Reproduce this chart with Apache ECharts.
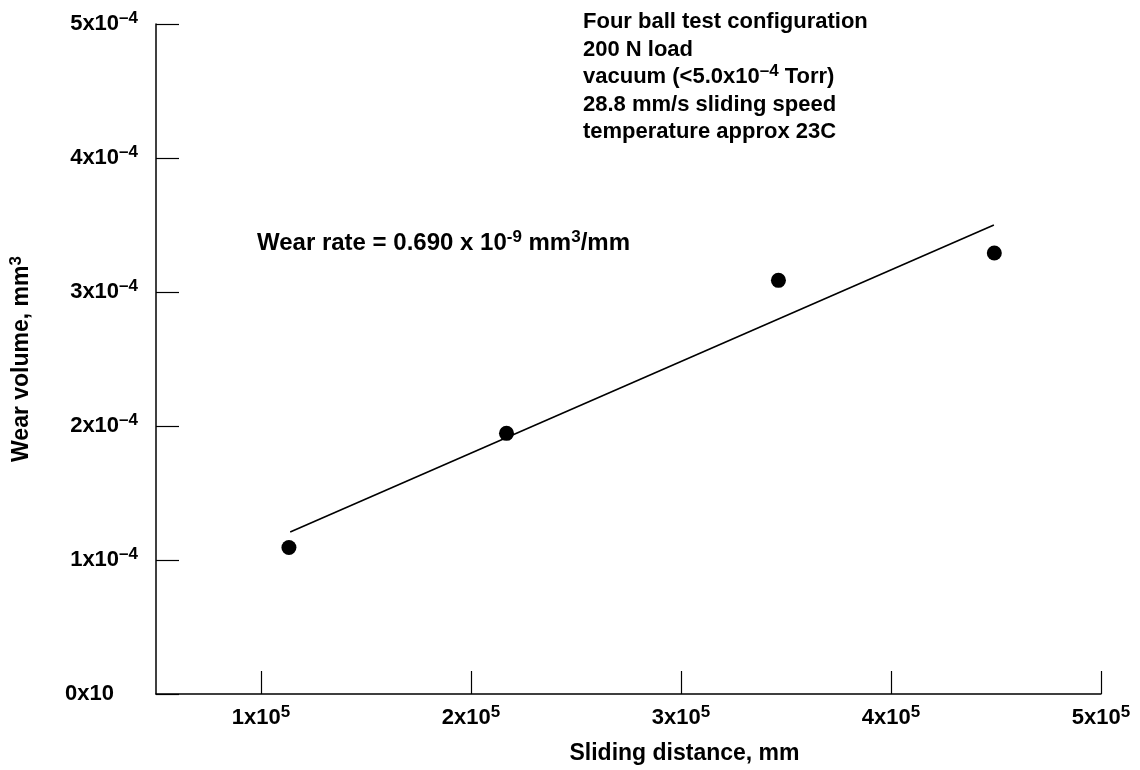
<!DOCTYPE html>
<html><head><meta charset="utf-8">
<script src="https://cdn.jsdelivr.net/npm/echarts@6/dist/echarts.min.js"></script>
<style>html,body{margin:0;padding:0;background:#fff}#c{width:1140px;height:770px}</style>
</head><body><div id="c"></div>
<script>
// Data
const slidingDistance = [113300, 216900, 346400, 449200];
const wearVolume = [1.093e-4, 1.945e-4, 3.087e-4, 3.291e-4];
const fitX = [113900, 449000];
const fitY = [1.209e-4, 3.50e-4];
const xTickValues = [100000, 200000, 300000, 400000, 500000];
const xTickMantissa = ['1', '2', '3', '4', '5'];
const notes = ['Four ball test configuration', '200 N load', 'vacuum (<5.0x10{s|–4} Torr)', '28.8 mm/s sliding speed', 'temperature approx 23C'];

const FONT = 'Liberation Sans, Arial, Helvetica, sans-serif';
const chart = echarts.init(document.getElementById('c'));
const sup = { fontSize: 17, fontWeight: 'bold', fontFamily: FONT, color: '#000', padding: [0, 0, 11, 0] };
const base = { fontSize: 22, fontWeight: 'bold', fontFamily: FONT, color: '#000' };
const big = { fontSize: 23, fontWeight: 'bold', fontFamily: FONT, color: '#000' };

chart.setOption({
  animation: false,
  backgroundColor: '#fff',
  grid: { left: 154, right: 39, top: 24, bottom: 75 },
  xAxis: {
    type: 'value', min: 50000, max: 500000,
    name: '{b|Sliding distance, mm}', nameLocation: 'middle', nameGap: 48,
    nameTextStyle: { padding: [0, 0, 0, 112], rich: { b: big } },
    axisLine: { show: true, lineStyle: { color: '#000', width: 1.5 } },
    axisTick: { show: true, inside: true, length: 23, lineStyle: { color: '#000', width: 1.2 }, customValues: xTickValues },
    axisLabel: {
      customValues: xTickValues, margin: 10,
      formatter: v => '{b|' + xTickMantissa[xTickValues.indexOf(v)] + 'x10}{s|5}',
      rich: { b: base, s: sup }
    },
    splitLine: { show: false }
  },
  yAxis: {
    type: 'value', min: 0, max: 5e-4, interval: 1e-4,
    name: '{b|Wear volume, mm}{s|3}', nameLocation: 'middle', nameGap: 120,
    nameTextStyle: { rich: { b: big, s: sup } },
    axisLine: { show: true, lineStyle: { color: '#000', width: 1.5 } },
    axisTick: { show: true, inside: true, length: 23, lineStyle: { color: '#000', width: 1.2 } },
    axisLabel: {
      margin: 18,
      formatter: v => {
        const m = Math.round(v / 1e-4);
        return m === 0 ? '{b|0x10}{p|}' : '{b|' + m + 'x10}{s|–4}';
      },
      rich: { b: base, s: sup, p: { width: 24 } }
    },
    splitLine: { show: false }
  },
  graphic: [
    {
      type: 'text', left: 583, top: 11,
      style: {
        text: notes.map(n => '{b|' + n.replace(/\{s\|–4\}/, '}{s|–4}{b|') + '}').join('\n'),
        rich: { b: Object.assign({}, base, { lineHeight: 27.6 }), s: Object.assign({}, sup, { lineHeight: 27.6 }) }
      }
    },
    {
      type: 'text', left: 257, top: 229,
      style: {
        text: '{b|Wear rate = 0.690 x 10}{s|-9}{b| mm}{s|3}{b|/mm}',
        rich: { b: { fontSize: 24, fontWeight: 'bold', fontFamily: FONT, color: '#000' }, s: sup }
      }
    }
  ],
  series: [
    {
      type: 'line', data: fitX.map((x, i) => [x, fitY[i]]),
      symbol: 'none', lineStyle: { color: '#000', width: 1.6 }, silent: true
    },
    {
      type: 'scatter', data: slidingDistance.map((x, i) => [x, wearVolume[i]]),
      symbol: 'circle', symbolSize: 15, itemStyle: { color: '#000', opacity: 1 }
    }
  ]
});
</script></body></html>
